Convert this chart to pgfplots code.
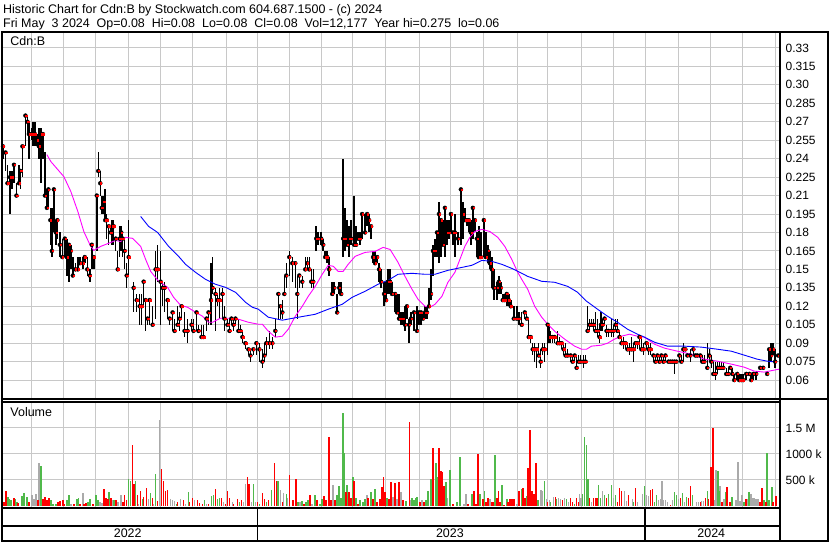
\documentclass[border=0pt]{standalone}
\usepackage{pgfplots}
\pgfplotsset{compat=1.18}
\usepackage{pgfplotstable}
\usepackage{fontspec}
\setmainfont{Liberation Sans}

\definecolor{gridc}{RGB}{200,200,200}
\definecolor{volred}{RGB}{255,0,0}
\definecolor{volgreen}{RGB}{80,185,75}
\definecolor{volgray}{RGB}{170,170,170}
\definecolor{mamag}{RGB}{255,0,255}
\definecolor{mablue}{RGB}{0,0,255}
\newcommand\lbl{\fontsize{12}{14}\selectfont}
\newcommand\hdr{\fontsize{12.5}{14}\selectfont}

% daily bars, x = chart position (trading days), prices in $
\pgfplotstableread{
x hi lo cl
2 0.250 0.240 0.250
4.5 0.245 0.230 0.245
6.5 0.235 0.220 0.220
9 0.230 0.195 0.225
11 0.230 0.215 0.225
13 0.235 0.220 0.235
15.5 0.220 0.210 0.210
18 0.235 0.220 0.220
19.5 0.230 0.215 0.230
21.5 0.250 0.225 0.250
24.5 0.275 0.250 0.275
26.5 0.275 0.260 0.270
28 0.270 0.240 0.260
30.5 0.265 0.255 0.260
32 0.270 0.250 0.260
34 0.270 0.250 0.260
36 0.260 0.250 0.255
38 0.265 0.240 0.250
40 0.265 0.220 0.260
42 0.260 0.240 0.260
44 0.245 0.210 0.210
46 0.215 0.200 0.200
47.5 0.215 0.200 0.215
49.5 0.200 0.170 0.190
51 0.200 0.160 0.165
53 0.215 0.180 0.215
55 0.190 0.170 0.180
56.5 0.190 0.175 0.190
59 0.180 0.160 0.170
61.5 0.175 0.160 0.160
64 0.175 0.160 0.175
66 0.175 0.145 0.160
68 0.170 0.140 0.170
70 0.170 0.150 0.165
72 0.160 0.145 0.145
74.5 0.155 0.150 0.150
77 0.160 0.150 0.150
79 0.160 0.155 0.155
82 0.160 0.150 0.155
84 0.160 0.155 0.160
86.5 0.160 0.145 0.150
89 0.150 0.140 0.145
91 0.170 0.150 0.170
93 0.160 0.150 0.160
96 0.210 0.165 0.210
97.5 0.245 0.225 0.230
99.5 0.230 0.210 0.220
101 0.210 0.195 0.200
103 0.210 0.195 0.205
104.5 0.215 0.190 0.190
106 0.195 0.175 0.190
108 0.185 0.170 0.185
110 0.185 0.180 0.180
111.5 0.190 0.170 0.185
113 0.190 0.170 0.185
115 0.175 0.165 0.175
117 0.165 0.150 0.150
119 0.185 0.160 0.175
120.5 0.185 0.165 0.180
122 0.180 0.160 0.175
124 0.175 0.150 0.165
126 0.155 0.135 0.145
128 0.190 0.145 0.160
133 0.140 0.115 0.135
136 0.130 0.115 0.125
139 0.130 0.105 0.120
141 0.130 0.105 0.120
143 0.140 0.120 0.140
145 0.125 0.100 0.125
147 0.110 0.105 0.110
149 0.125 0.105 0.125
152 0.120 0.105 0.105
155 0.165 0.110 0.150
157 0.170 0.140 0.150
160 0.165 0.105 0.140
162 0.140 0.120 0.135
164 0.140 0.115 0.135
167 0.125 0.110 0.125
169 0.110 0.105 0.110
172 0.115 0.100 0.115
174 0.110 0.100 0.100
177 0.120 0.105 0.105
179 0.115 0.100 0.110
181 0.120 0.110 0.120
184 0.115 0.095 0.100
187 0.110 0.090 0.100
191 0.110 0.100 0.105
193 0.110 0.100 0.100
196 0.115 0.100 0.115
198 0.105 0.100 0.100
201 0.105 0.095 0.095
203 0.105 0.095 0.095
206 0.110 0.100 0.110
208 0.115 0.105 0.115
210.5 0.155 0.105 0.125
212 0.160 0.130 0.135
215 0.135 0.100 0.130
217 0.130 0.120 0.125
219 0.135 0.110 0.125
222 0.135 0.110 0.130
224 0.120 0.100 0.110
227 0.110 0.105 0.105
229 0.110 0.100 0.100
231 0.110 0.105 0.110
233 0.110 0.100 0.105
235 0.110 0.105 0.110
238 0.110 0.100 0.100
240 0.105 0.100 0.100
242 0.100 0.090 0.095
245 0.090 0.085 0.090
248 0.085 0.080 0.085
250 0.085 0.075 0.080
253 0.085 0.080 0.085
256 0.090 0.080 0.090
259 0.090 0.075 0.085
262 0.085 0.070 0.075
264 0.090 0.075 0.080
266 0.095 0.080 0.090
269 0.100 0.085 0.090
272 0.095 0.085 0.090
275 0.110 0.095 0.100
278 0.130 0.110 0.130
280 0.120 0.110 0.120
282 0.125 0.110 0.115
284 0.145 0.130 0.130
286 0.155 0.135 0.145
289 0.165 0.145 0.160
292 0.160 0.140 0.155
295 0.155 0.135 0.155
297 0.145 0.110 0.130
299 0.145 0.135 0.145
302 0.145 0.135 0.140
305 0.160 0.150 0.150
307 0.160 0.150 0.155
309 0.160 0.150 0.150
311 0.150 0.135 0.140
313 0.150 0.135 0.140
316 0.185 0.165 0.175
318 0.180 0.170 0.175
321 0.180 0.170 0.175
323 0.175 0.165 0.170
325 0.165 0.160 0.160
327 0.165 0.155 0.160
329 0.160 0.145 0.150
332 0.140 0.130 0.130
334 0.140 0.130 0.135
337 0.130 0.115 0.115
339 0.140 0.130 0.135
341 0.140 0.130 0.130
343 0.240 0.160 0.175
345 0.200 0.165 0.175
347 0.190 0.170 0.170
349 0.185 0.160 0.175
351 0.190 0.170 0.175
354 0.210 0.170 0.170
356 0.185 0.170 0.170
358 0.180 0.175 0.175
360 0.180 0.170 0.175
362 0.195 0.175 0.195
365 0.195 0.180 0.180
367 0.195 0.185 0.195
369 0.195 0.180 0.190
371 0.185 0.175 0.185
373 0.165 0.155 0.160
375 0.165 0.155 0.155
377 0.160 0.155 0.160
379 0.155 0.140 0.150
381 0.150 0.135 0.140
384 0.140 0.120 0.130
386 0.140 0.125 0.125
388 0.150 0.130 0.140
390 0.150 0.130 0.140
392 0.140 0.130 0.130
395 0.130 0.115 0.130
397 0.130 0.115 0.115
399 0.130 0.110 0.110
401 0.115 0.105 0.110
403 0.115 0.105 0.110
405 0.120 0.100 0.105
407 0.120 0.110 0.120
409 0.110 0.090 0.105
411 0.115 0.105 0.110
414 0.115 0.100 0.115
417 0.120 0.100 0.100
419 0.115 0.105 0.115
421 0.115 0.105 0.115
423 0.115 0.110 0.110
425 0.120 0.110 0.115
427 0.120 0.110 0.115
429 0.135 0.120 0.120
431 0.150 0.125 0.130
433 0.170 0.145 0.165
435 0.175 0.160 0.165
437 0.180 0.160 0.180
439 0.205 0.155 0.195
441 0.190 0.160 0.190
443 0.190 0.170 0.170
445 0.200 0.160 0.200
447 0.190 0.170 0.180
449 0.190 0.175 0.180
451 0.195 0.180 0.195
453 0.180 0.170 0.180
455 0.195 0.160 0.180
458 0.180 0.170 0.175
461 0.215 0.170 0.215
463 0.205 0.175 0.195
465 0.200 0.190 0.190
467 0.190 0.185 0.190
469 0.190 0.180 0.190
471 0.190 0.170 0.180
473 0.200 0.175 0.200
475 0.190 0.180 0.190
477 0.180 0.160 0.175
479 0.185 0.160 0.160
481 0.180 0.160 0.160
484 0.190 0.160 0.190
486 0.180 0.160 0.160
488 0.170 0.155 0.165
490 0.165 0.150 0.155
492 0.160 0.135 0.150
494 0.150 0.125 0.135
497 0.140 0.125 0.135
499 0.145 0.130 0.140
501 0.140 0.130 0.135
503 0.130 0.125 0.125
505 0.130 0.125 0.125
507 0.130 0.120 0.130
509 0.130 0.120 0.125
511 0.125 0.120 0.120
514 0.120 0.110 0.110
517 0.120 0.110 0.110
519 0.115 0.105 0.110
522 0.115 0.105 0.105
525 0.115 0.110 0.115
527 0.115 0.110 0.110
529 0.110 0.095 0.095
531 0.095 0.090 0.095
533 0.090 0.080 0.085
535 0.090 0.075 0.085
537 0.085 0.070 0.085
539 0.090 0.080 0.080
541 0.085 0.070 0.075
543 0.090 0.080 0.085
545 0.090 0.075 0.085
548 0.105 0.080 0.105
549.5 0.105 0.090 0.095
551 0.100 0.090 0.095
553 0.095 0.090 0.095
555 0.095 0.090 0.095
558 0.100 0.090 0.090
560 0.095 0.090 0.090
562 0.090 0.085 0.090
564 0.090 0.080 0.085
566 0.090 0.080 0.080
568 0.085 0.080 0.080
571 0.080 0.075 0.080
573 0.080 0.075 0.075
575 0.080 0.075 0.080
577 0.080 0.070 0.070
579 0.080 0.075 0.075
581 0.080 0.075 0.075
584 0.080 0.070 0.075
586 0.080 0.075 0.075
588 0.120 0.100 0.100
590 0.110 0.100 0.105
592 0.110 0.105 0.105
594 0.110 0.100 0.105
596 0.115 0.100 0.100
598 0.110 0.095 0.100
600 0.105 0.090 0.095
601.5 0.115 0.100 0.105
603 0.110 0.100 0.105
605 0.110 0.105 0.110
607 0.105 0.095 0.100
609 0.100 0.095 0.100
612 0.110 0.095 0.100
614 0.105 0.095 0.100
616 0.110 0.100 0.105
618 0.110 0.100 0.100
620 0.100 0.095 0.095
622 0.095 0.090 0.090
624 0.095 0.085 0.090
626 0.090 0.085 0.090
628 0.090 0.085 0.085
630 0.090 0.080 0.085
632 0.095 0.085 0.085
634 0.090 0.075 0.085
636 0.090 0.085 0.090
638 0.090 0.085 0.090
640 0.095 0.085 0.095
642 0.095 0.085 0.085
644 0.090 0.080 0.085
647 0.090 0.085 0.090
649 0.090 0.080 0.085
651 0.090 0.080 0.085
654 0.080 0.075 0.080
656 0.080 0.075 0.075
658 0.080 0.075 0.080
660 0.080 0.075 0.075
662 0.080 0.075 0.080
664 0.080 0.075 0.075
666 0.080 0.075 0.080
669 0.075 0.075 0.075
671 0.075 0.075 0.075
673 0.075 0.075 0.075
675 0.075 0.065 0.075
677 0.075 0.075 0.075
680 0.080 0.075 0.080
682 0.080 0.075 0.075
684 0.090 0.075 0.085
686 0.085 0.085 0.085
688 0.080 0.080 0.080
691 0.085 0.075 0.080
694 0.085 0.080 0.085
696 0.080 0.080 0.080
698 0.080 0.080 0.080
701 0.080 0.075 0.080
703 0.080 0.075 0.075
705 0.080 0.075 0.075
708 0.090 0.070 0.070
710 0.085 0.075 0.080
712 0.080 0.070 0.075
714 0.075 0.065 0.065
716 0.075 0.060 0.065
718 0.075 0.065 0.070
720 0.075 0.070 0.070
722 0.075 0.070 0.070
724 0.075 0.070 0.070
727 0.070 0.065 0.065
729 0.070 0.065 0.065
731 0.070 0.070 0.070
733 0.070 0.065 0.065
735 0.065 0.060 0.060
738 0.065 0.060 0.065
740 0.065 0.060 0.060
742 0.065 0.060 0.060
744 0.065 0.060 0.060
747 0.065 0.060 0.065
750 0.065 0.065 0.065
752 0.065 0.060 0.060
754 0.065 0.060 0.065
757 0.065 0.060 0.065
761 0.070 0.070 0.070
764 0.070 0.070 0.070
768 0.065 0.065 0.065
770 0.085 0.070 0.085
772 0.090 0.075 0.080
774 0.090 0.080 0.085
776 0.085 0.070 0.075
779 0.080 0.080 0.080
}\ohlc

% short moving average (magenta)
\pgfplotstableread{
x ma
46 0.2433
50 0.2376
63 0.2254
70 0.2133
77 0.1971
83 0.1808
89 0.1703
93 0.1654
100 0.1687
110 0.1719
115 0.1735
120 0.1727
125 0.1760
132 0.1752
140 0.1687
145 0.1581
150 0.1484
158 0.1403
167 0.1354
173 0.1273
180 0.1208
187 0.1192
195 0.1152
202 0.1119
208 0.1070
212 0.1070
220 0.1103
228 0.1103
238 0.1095
248 0.1070
258 0.1054
262 0.1054
268 0.0997
275 0.0949
282 0.0957
288 0.1014
295 0.1119
302 0.1200
308 0.1281
315 0.1362
322 0.1460
328 0.1533
333 0.1525
338 0.1484
343 0.1484
348 0.1541
355 0.1606
365 0.1638
375 0.1646
383 0.1679
390 0.1662
398 0.1557
405 0.1443
412 0.1338
418 0.1257
425 0.1200
430 0.1192
435 0.1216
442 0.1281
448 0.1395
455 0.1476
460 0.1581
465 0.1687
470 0.1760
475 0.1808
482 0.1825
490 0.1808
498 0.1760
505 0.1687
512 0.1581
518 0.1476
522 0.1419
528 0.1338
535 0.1200
542 0.1111
548 0.1054
555 0.0997
565 0.0933
575 0.0876
582 0.0851
587 0.0851
592 0.0876
602 0.0884
608 0.0900
615 0.0933
622 0.0957
630 0.0973
638 0.0957
645 0.0949
655 0.0892
665 0.0860
678 0.0835
692 0.0811
705 0.0770
718 0.0754
732 0.0730
745 0.0705
755 0.0673
765 0.0665
775 0.0681
780 0.0689
}\maShort

% long moving average (blue)
\pgfplotstableread{
x ma
140 0.1930
148 0.1849
157 0.1800
168 0.1687
178 0.1606
185 0.1541
195 0.1476
205 0.1419
215 0.1379
225 0.1354
235 0.1314
245 0.1233
252 0.1192
258 0.1176
268 0.1111
282 0.1087
298 0.1111
315 0.1135
328 0.1176
342 0.1216
352 0.1273
365 0.1322
378 0.1379
388 0.1411
398 0.1460
412 0.1468
425 0.1460
435 0.1460
448 0.1492
462 0.1516
472 0.1533
482 0.1573
492 0.1565
502 0.1541
512 0.1508
520 0.1476
528 0.1443
542 0.1403
555 0.1395
568 0.1362
578 0.1314
587 0.1241
598 0.1176
608 0.1119
618 0.1070
628 0.1014
638 0.0973
645 0.0949
655 0.0908
668 0.0876
685 0.0876
702 0.0868
718 0.0851
732 0.0835
745 0.0803
758 0.0770
768 0.0754
778 0.0746
}\maLong

% volume in thousands: down days, up days, unchanged days
\pgfplotstableread{
x v
3 77
5 288
13 154
17 58
28 77
37 115
42 135
44 173
46 115
48 154
57 77
59 96
62 115
63 38
73 38
79 38
83 38
85 58
92 38
103 327
105 154
107 135
110 154
115 115
122 77
124 212
126 115
132 1173
133.5 423
137 212
140 288
143 173
146 346
152 154
157 96
161 712
163 481
165 288
167 308
177 77
183 115
189 77
192 154
197 115
199 58
202 38
208 38
215 327
221 154
225 38
227 288
229 154
233 38
237 135
241 115
247 558
248.5 423
257 77
262 250
264 135
268 115
274 827
276 481
282 77
289 596
293 115
296 519
304 38
310 212
317 115
324 192
326 115
329 1327
331 115
335 115
346 269
349 269
351 154
354 481
358 38
368 154
373 135
377 77
380 135
382 365
383.5 558
385 269
389 135
391 462
395 442
399 462
403 115
409.5 1615
420 77
424 77
433 1115
439 1115
441 673
442.5 654
444 385
453 38
468 38
474 288
476 38
478 1000
483 135
486 77
488 154
492 77
493.5 77
497 154
498.5 288
500 77
504 19
508 77
510 135
512 135
514 135
519 288
523 346
525 154
528 731
530 1462
532 288
534 231
536 827
548 77
556 173
563 115
571 154
573 77
577 154
579 77
590 154
594 154
596 154
597.5 154
607 154
618 77
620 346
622 288
629 212
636 346
651 308
653 327
671 19
681 154
689 154
691 385
701 77
706 154
709 135
712 750
713.5 1500
723 77
728 365
731 77
747 135
761 77
763 346
767 77
774 77
777 192
}\volDown

\pgfplotstableread{
x v
7 173
8.5 135
10 115
14 135
16 77
21 192
23 250
26 173
40 769
50 115
52 38
55 38
66 115
68 212
76 135
77.5 154
87 77
89 135
95 212
97 115
108 269
113 115
128 519
130 481
135 481
142 135
150 250
155 615
176 38
188 269
204 115
211 192
213 212
217 135
219 154
239 77
253 423
259 38
266 77
271 308
277.5 481
286 231
292 77
298 77
302 96
306 77
308 115
315 212
320 38
322 135
337 212
339 385
341 154
343 1788
344.5 1019
347 404
353 558
356 154
360 115
363 77
365 135
371 269
375 327
387 154
406 96
412 154
414 115
415.5 154
417 173
426 115
428 288
431 519
436 827
437.5 558
446 462
450 692
457 77
460 942
472 231
480 231
484.5 288
495 981
502 404
507 135
522 327
527 192
538 115
545 481
551 77
557 135
567 135
575 38
583 231
585 1327
587 1173
588.5 519
599 404
601 154
605 212
609 231
612 404
616 212
634 77
645 385
655 77
657 212
675 269
677 212
683 250
687 173
693 212
708 288
718.5 673
720 288
727 269
733 173
745 77
750 269
765 115
768 1019
770 115
773 365
}\volUp

\pgfplotstableread{
x v
1 308
31 212
33 135
35 231
38 827
70 38
82 250
99 77
101 58
112 115
117 77
120 212
138 38
148 135
153 38
159 1654
170 135
172 115
174 96
180 135
185 38
194 115
206 38
223 77
232 77
243 77
245 423
251 77
255 77
280 308
283 250
287 154
300 77
312 38
333 404
367 212
393 173
397 135
401 269
411 115
422 115
447 154
464 38
466 231
490 135
517 38
541 308
543 288
547 135
550 115
554 173
559 154
561 135
565 154
569 77
580 231
581.5 154
592 77
603 288
614 154
625 288
627 96
633 135
638 77
643 231
647 212
649 192
659 115
661 135
662.5 481
664 115
666 115
668 77
673 115
679 135
685 77
697 77
699 77
702 96
704 96
715 115
717 692
721 385
725 135
737 115
739 846
741 96
743 212
748 135
752 231
754 154
755.5 154
757 135
759 135
}\volFlat

\pgfplotsset{
  panel/.style={
    scale only axis, width=781pt, anchor=south west,
    xmin=0, xmax=781,
    axis line style={draw=none},
    xtick={30.7,62.7,95,128.3,160,192.3,225.7,256.7,289.3,321,352.7,385,419.3,450.7,484,517.7,547.7,581.7,614.3,645.7,679.3,711,743.3,776},
    xticklabels={},
    xmajorgrids, ymajorgrids,
    grid style={gridc, line width=1pt},
    major tick length=0pt,
    yticklabel pos=right,
    yticklabel style={anchor=west, font=\lbl, xshift=2pt},
  },
}

\begin{document}
\begin{tikzpicture}
\begin{scope}[x=1pt,y=1pt]
\useasboundingbox (0,0) rectangle (830,543);
\fill[white] (0,0) rectangle (830,543);
\end{scope}

% price panel
\begin{axis}[panel, at={(0pt,143pt)}, height=367pt,
  ymin=0.0446, ymax=0.3422,
  ytick={0.06,0.075,0.09,0.105,0.12,0.135,0.15,0.165,0.18,0.195,0.21,0.225,0.24,0.255,0.27,0.285,0.30,0.315,0.33},
  yticklabels={0.06,0.075,0.09,0.105,0.12,0.135,0.15,0.165,0.18,0.195,0.21,0.225,0.24,0.255,0.27,0.285,0.30,0.315,0.33},
]
\addplot[forget plot, only marks, mark=none,
  error bars/.cd, y dir=both, y explicit, error mark=none,
  error bar style={black, line width=1.5pt, line cap=butt}]
  table[x=x, y=cl, y error plus expr=\thisrow{hi}-\thisrow{cl},
        y error minus expr=\thisrow{cl}-\thisrow{lo}] {\ohlc};
\addplot[only marks, mark=square*, mark size=0.7pt,
  mark options={draw=red, fill=red, xshift=0.6pt}] table[x=x, y=cl] {\ohlc};
\addplot[mamag, line width=0.9pt] table[x=x, y=ma] {\maShort};
\addplot[mablue, line width=0.9pt] table[x=x, y=ma] {\maLong};
\end{axis}

% volume panel
\begin{axis}[panel, at={(0pt,34pt)}, height=106pt,
  ymin=-38, ymax=2000,
  ytick={500,1000,1500},
  yticklabels={500 k,1000 k,1.5 M},
]
\addplot[ycomb, volgray, line width=1.6pt] table[x=x, y=v] {\volFlat};
\addplot[ycomb, volgreen, line width=1.6pt] table[x=x, y=v] {\volUp};
\addplot[ycomb, volred, line width=1.6pt] table[x=x, y=v] {\volDown};
\end{axis}

\begin{scope}[x=1pt,y=1pt]
% header
\node[anchor=base west, inner sep=0, font=\hdr] at (2,529.7)
  {Historic Chart for Cdn:B by Stockwatch.com 604.687.1500 - (c) 2024};
\node[anchor=base west, inner sep=0, font=\hdr] at (2,515.7)
  {Fri May\ \ 3 2024\ \ Op=0.08\ \ Hi=0.08\ \ Lo=0.08\ \ Cl=0.08\ \ Vol=12,177\ \ Year hi=0.275\ \ lo=0.06};
\node[anchor=base west, inner sep=0, font=\hdr] at (9.3,497) {Cdn:B};
\node[anchor=base west, inner sep=0, font=\hdr] at (9.3,125) {Volume};
% frame
\draw[line width=2pt] (0,511) -- (830,511);
\draw[line width=2pt] (1,511) -- (1,0.5);
\draw[line width=2pt] (829,511) -- (829,0.5);
\draw[line width=2pt] (781,511) -- (781,0.5);
\draw[line width=1.2pt] (0,143) -- (829,143);
\draw[line width=1.2pt] (0,140) -- (781,140);
\draw[line width=2pt] (0,33.5) -- (781,33.5);
\draw[line width=2pt] (0,15.5) -- (781,15.5);
\draw[line width=2pt] (0,1) -- (830,1);
\draw[line width=1.5pt] (257,33.5) -- (257,1);
\draw[line width=1.5pt] (645.7,33.5) -- (645.7,1);
% years
\node[anchor=base, inner sep=0, font=\hdr] at (127,4.5) {2022};
\node[anchor=base, inner sep=0, font=\hdr] at (450,4.5) {2023};
\node[anchor=base, inner sep=0, font=\hdr] at (712,4.5) {2024};
\end{scope}
\end{tikzpicture}
\end{document}
